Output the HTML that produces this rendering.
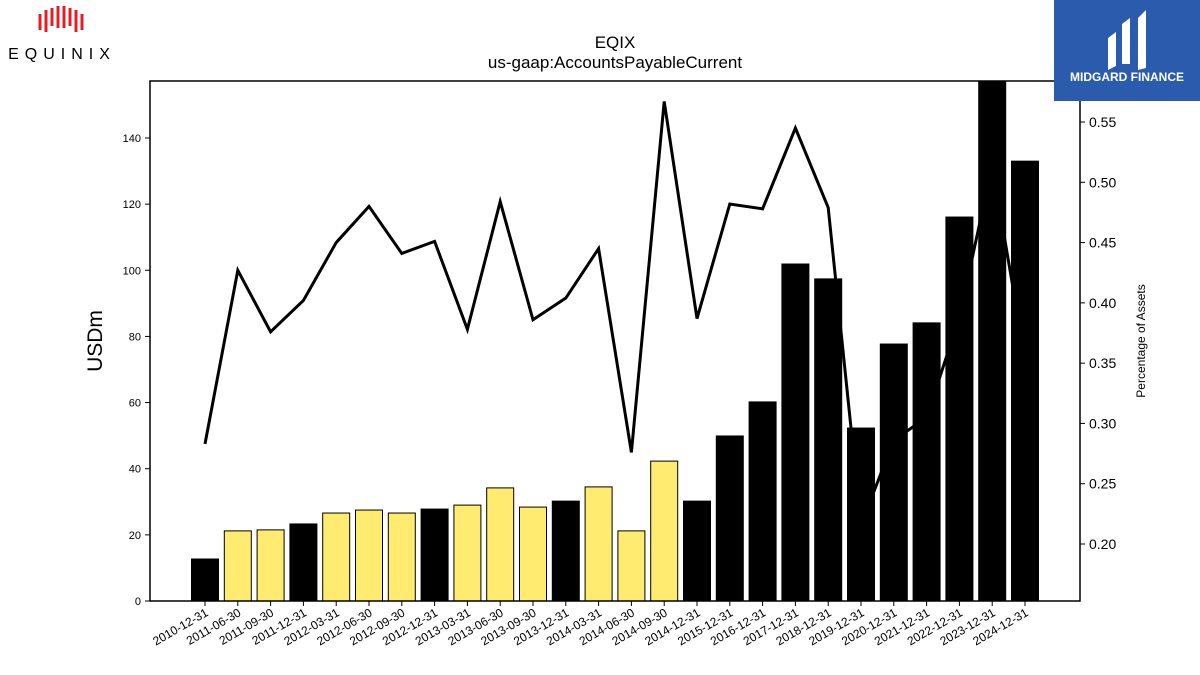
<!DOCTYPE html>
<html><head><meta charset="utf-8"><style>
body{margin:0;background:#fff;font-family:"Liberation Sans","DejaVu Sans",sans-serif}
#wrap{position:relative;width:1200px;height:675px;overflow:hidden}
</style></head><body>
<div id="wrap">
<svg id="chart" width="1200" height="675"></svg>
</div>
<script>
const categories=["2010-12-31","2011-06-30","2011-09-30","2011-12-31","2012-03-31","2012-06-30","2012-09-30","2012-12-31","2013-03-31","2013-06-30","2013-09-30","2013-12-31","2014-03-31","2014-06-30","2014-09-30","2014-12-31","2015-12-31","2016-12-31","2017-12-31","2018-12-31","2019-12-31","2020-12-31","2021-12-31","2022-12-31","2023-12-31","2024-12-31"];
const payables=[12.7,21.2,21.5,23.3,26.6,27.5,26.6,27.8,29.0,34.2,28.4,30.2,34.5,21.2,42.3,30.2,49.9,60.2,101.9,97.4,52.3,77.7,84.1,116.1,160,133];
const annual=[1,0,0,1,0,0,0,1,0,0,0,1,0,0,0,1,1,1,1,1,1,1,1,1,1,1];
const pctAssets=[0.283,0.427,0.376,0.402,0.450,0.480,0.441,0.451,0.378,0.484,0.386,0.404,0.445,0.276,0.567,0.387,0.482,0.478,0.545,0.479,0.216,0.286,0.305,0.388,0.514,0.354];
const leftTicks=[0,20,40,60,80,100,120,140];
const rightTicks=[0.20,0.25,0.30,0.35,0.40,0.45,0.50,0.55];
const NS="http://www.w3.org/2000/svg";
const svg=document.getElementById('chart');
const L=150,R=1080,T=81,B=601;
const yL=v=>B-v*(B-138)/140;
const yR=v=>544-(v-0.20)*(544-122)/0.35;
const x0=205,step=(1025-205)/(categories.length-1);
const xC=i=>x0+i*step;
function mk(tag,attrs,parent){const e=document.createElementNS(NS,tag);for(const k in attrs)e.setAttribute(k,attrs[k]);(parent||svg).appendChild(e);return e;}
const clip=mk('clipPath',{id:'pc'});mk('rect',{x:L,y:T,width:R-L,height:B-T},clip);
const bars=mk('g',{'clip-path':'url(#pc)'});

categories.forEach((c,i)=>{const h=payables[i];const r=mk('rect',{x:xC(i)-13.5,y:yL(h),width:27,height:B-yL(h),fill:annual[i]?'#000':'#ffeb70',stroke:'#000','stroke-width':1},bars);

});
const pts=pctAssets.map((v,i)=>xC(i)+','+yR(v)).join(' ');
const ln=mk('polyline',{points:pts,fill:'none',stroke:'#000','stroke-width':3,'clip-path':'url(#pc)'});


// redraw bars on top for annual to emulate occlusion: matplotlib draws twin axis line above; but reference shows bars over line
categories.forEach((c,i)=>{if(!annual[i])return;const h=payables[i];const r=mk('rect',{x:xC(i)-13.5,y:Math.max(T,yL(h)),width:27,height:B-Math.max(T,yL(h)),fill:'#000'});

});
const fr=mk('rect',{x:L,y:T,width:R-L,height:B-T,fill:'none',stroke:'#000','stroke-width':1.5});

leftTicks.forEach(t=>{const y=yL(t);mk('line',{x1:L-5,x2:L,y1:y,y2:y,stroke:'#000'});const tx=mk('text',{x:L-9,y:y+4,'text-anchor':'end','font-size':11});tx.textContent=t;
});
rightTicks.forEach(t=>{const y=yR(t);mk('line',{x1:R,x2:R+5,y1:y,y2:y,stroke:'#000'});const tx=mk('text',{x:R+9,y:y+5,'font-size':14});tx.textContent=t.toFixed(2);
});
categories.forEach((c,i)=>{const x=xC(i);mk('line',{x1:x,x2:x,y1:B,y2:B+5,stroke:'#000'});const tx=mk('text',{x:x+4,y:B+14,'text-anchor':'end','font-size':12,transform:`rotate(-30 ${x+4} ${B+14})`});tx.textContent=c;
});
function txt(s,a,name){const t=mk('text',a);t.textContent=s;return t;}
txt('EQIX',{x:615,y:48,'text-anchor':'middle','font-size':17},'chart-title');
txt('us-gaap:AccountsPayableCurrent',{x:615,y:68,'text-anchor':'middle','font-size':17},'chart-subtitle');
txt('USDm',{x:102,y:341,'text-anchor':'middle','font-size':21,transform:'rotate(-90 102 341)'},'y-axis-title');
txt('Percentage of Assets',{x:1145,y:341,'text-anchor':'middle','font-size':12,transform:'rotate(-90 1145 341)'},'y2-axis-title');
// Equinix logo
const eq=mk('g',{});
mk('path',{d:'M40 14 v16 M46 10 v22 M52 8 v18 M58 6 v22 M64 6 v22 M70 8 v18 M76 10 v22 M82 14 v16',stroke:'#e31f26','stroke-width':3,fill:'none'},eq);
const et=mk('text',{x:62,y:59,'text-anchor':'middle','font-size':16,'letter-spacing':'6'},eq);et.textContent='EQUINIX';
// Midgard logo
const mg=mk('g',{});
mk('rect',{x:1054,y:0,width:146,height:101,fill:'#2b5bad'},mg);
mk('path',{d:'M1108 70 v-32 l8 -6 v34 z M1122 64 v-40 l8 -6 v46 z M1138 70 v-52 l8 -8 v58 z',fill:'#fff'},mg);
const mt=mk('text',{x:1127,y:81,'text-anchor':'middle','font-size':12,'font-weight':'bold',fill:'#fff'},mg);mt.textContent='MIDGARD FINANCE';
</script>
</body></html>
